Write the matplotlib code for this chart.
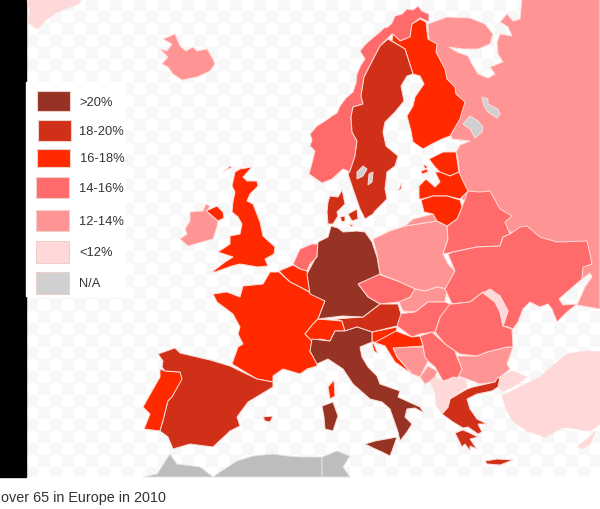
import numpy as np
import matplotlib
matplotlib.use("Agg")
import matplotlib.pyplot as plt
from matplotlib.patches import Rectangle

plt.rcParams['font.family'] = ['Liberation Sans', 'DejaVu Sans']

# Legend
labels = [">20%", "18-20%", "16-18%", "14-16%", "12-14%", "<12%", "N/A"]
colors = ["#973324", "#cf3017", "#ff2a00", "#ff6b6b", "#ff9494", "#ffd9d9", "#d0d0d0"]
AFRICA_GREY = "#bdbdbd"

# Outlines, in image pixels
russia = [(428,25),(447,18),(470,19),(485,25),(493,35),(490,45),(478,50),(463,50),(449,48),(457,53),(468,57),(472,65),(478,75),(488,79),(495,75),(490,68),(503,63),(498,55),(497,43),(500,35),(512,37),(508,28),(500,23),(507,15),(513,22),(520,20),(522,0),(600,0),(600,310),(577,306),(585,288),(592,278),(590,274),(582,280),(570,250),(500,230),(462,200),(458,160),(456,153),(460,146),(470,142),(452,140),(445,120),(430,60)]
finland = [(412,25),(420,20),(426,23),(427,32),(428,40),(437,45),(436,53),(445,70),(447,80),(455,88),(456,95),(465,103),(460,120),(450,137),(442,140),(432,145),(423,150),(413,143),(411,132),(407,117),(413,107),(415,98),(424,85),(420,77),(413,75),(405,50),(392,42),(393,35),(400,42),(410,38)]
sweden = [(388,40),(405,50),(413,75),(407,77),(401,87),(404,102),(395,113),(385,123),(383,133),(386,147),(398,157),(395,167),(387,173),(385,190),(387,200),(375,212),(373,215),(365,220),(360,210),(353,190),(348,175),(350,172),(355,157),(357,142),(352,133),(351,118),(353,108),(363,105),(361,97),(364,78),(380,47)]
gotland = [(398,192),(402,183),(401,190)]
norway = [(429,15),(422,12),(418,7),(413,11),(407,10),(402,15),(395,17),(392,24),(388,28),(384,29),(380,33),(375,37),(368,43),(364,47),(360,52),(365,60),(361,66),(357,75),(356,84),(353,93),(346,99),(340,107),(337,114),(332,117),(325,122),(317,127),(310,135),(312,141),(310,147),(315,152),(313,160),(309,175),(322,184),(332,180),(343,170),(350,173),(355,157),(357,142),(352,133),(351,118),(353,108),(363,105),(361,97),(364,78),(380,47),(388,39),(392,35),(400,42),(410,38),(412,25),(420,19),(429,23)]
estonia = [(429,160),(443,153),(456,153),(459,173),(450,177),(440,173),(435,168)]
saaremaa = [(421,172),(427,170),(428,173),(422,175)]
hiiumaa = [(423,165),(428,168),(425,170)]
latvia = [(419,200),(419,187),(426,180),(435,188),(440,183),(435,173),(440,173),(450,177),(459,173),(463,182),(468,192),(460,200),(447,197),(433,197),(422,200)]
lithuania = [(421,201),(433,197),(447,197),(460,201),(462,208),(457,220),(447,227),(437,222),(433,215),(424,213)]
poland = [(373,240),(390,232),(405,227),(437,222),(447,227),(448,240),(443,255),(448,265),(455,272),(447,290),(437,288),(425,292),(415,290),(400,283),(380,275),(377,255)]
kaliningrad = [(405,227),(413,220),(433,215),(437,222)]
belarus = [(447,227),(457,220),(462,208),(468,192),(480,193),(490,192),(500,210),(512,217),(505,223),(510,235),(503,238),(500,247),(477,248),(453,253),(443,255),(448,240)]
ukraine = [(453,253),(477,248),(500,247),(503,238),(510,235),(520,228),(527,227),(540,238),(557,243),(587,242),(590,255),(592,265),(583,268),(582,280),(567,293),(559,300),(563,306),(577,305),(567,313),(557,323),(552,310),(548,305),(540,308),(530,303),(523,310),(518,323),(513,330),(508,328),(503,327),(508,312),(500,297),(483,293),(470,303),(452,305),(445,290),(455,272),(448,255)]
moldova = [(483,294),(490,290),(500,297),(508,312),(503,327),(500,313),(495,303)]
romania = [(452,305),(470,303),(483,293),(495,303),(500,313),(503,327),(512,330),(513,348),(507,348),(487,353),(477,357),(460,355),(455,352),(445,345),(435,333),(440,318),(445,305)]
bulgaria = [(457,357),(477,357),(487,353),(507,348),(513,348),(507,365),(510,370),(500,378),(495,383),(480,385),(467,380),(458,377),(462,370)]
hungary = [(398,315),(415,313),(428,303),(445,303),(450,305),(440,318),(435,333),(420,335),(412,338),(397,327)]
slovakia = [(415,290),(425,292),(437,288),(447,290),(445,303),(428,303),(415,313),(403,312),(399,303),(410,298)]
czechia = [(358,285),(378,275),(400,283),(415,290),(410,298),(399,303),(380,305),(368,298)]
germany = [(317,258),(318,243),(328,238),(331,227),(338,229),(343,233),(357,232),(365,233),(372,243),(377,258),(380,275),(358,285),(368,298),(380,305),(363,318),(342,317),(318,320),(325,302),(310,295),(307,275),(315,260)]
denmark = [(328,203),(330,197),(338,198),(342,191),(343,195),(345,205),(342,208),(337,213),(338,217),(333,225),(328,225),(327,213)]
zealand = [(348,215),(357,210),(358,220),(352,222)]
funen = [(340,218),(345,217),(345,222),(342,223)]
lolland = [(348,225),(353,226),(352,228)]
netherlands = [(293,265),(300,250),(312,245),(318,245),(317,258),(310,265),(307,272),(300,270)]
belgium = [(279,272),(293,266),(300,270),(307,272),(310,293),(300,288),(290,283)]
france = [(279,273),(290,283),(300,288),(309,293),(325,302),(318,320),(313,325),(305,335),(312,342),(310,353),(317,362),(317,367),(307,370),(300,375),(283,370),(273,377),(273,383),(257,380),(232,365),(238,348),(243,345),(238,335),(240,328),(233,315),(217,303),(213,295),(227,293),(240,298),(243,287),(263,285),(270,273)]
switzerland = [(305,335),(313,325),(318,320),(342,322),(345,332),(335,332),(330,342),(320,340),(312,342)]
austria = [(335,320),(363,318),(380,305),(398,305),(401,315),(397,327),(372,333),(357,328),(345,332),(342,322)]
italy = [(372,333),(372,343),(360,348),(362,358),(368,368),(377,377),(380,385),(400,392),(398,398),(420,408),(424,414),(415,409),(407,410),(405,418),(412,425),(407,433),(400,442),(398,433),(390,410),(382,403),(370,400),(353,385),(343,370),(328,360),(317,365),(310,352),(312,340),(330,342),(335,332),(345,332),(357,328)]
sicily = [(365,445),(375,442),(397,438),(392,452),(390,457),(382,453),(373,449)]
sardinia = [(322,407),(333,403),(338,417),(333,432),(325,430),(324,418)]
corsica = [(328,388),(334,381),(335,397),(330,400)]
slovenia = [(372,333),(397,328),(395,340),(385,345),(372,343)]
croatia = [(396,332),(412,338),(420,337),(423,347),(393,349),(397,358),(412,375),(395,363),(385,347),(373,343),(378,355),(374,352),(372,345)]
bosnia = [(393,348),(423,348),(425,358),(428,362),(420,378),(412,375),(397,358)]
serbia = [(420,337),(432,333),(445,345),(455,352),(457,358),(462,370),(458,378),(443,382),(435,368),(428,362),(425,358),(423,347)]
montenegro = [(420,378),(428,367),(437,372),(435,380),(425,385)]
albania = [(430,382),(435,378),(443,383),(443,395),(450,400),(448,408),(442,415),(437,407),(435,393)]
macedonia = [(443,383),(453,378),(465,380),(467,388),(450,399),(443,395)]
greece = [(442,415),(448,408),(450,400),(467,390),(473,388),(495,383),(498,378),(502,382),(498,388),(492,392),(477,395),(467,400),(470,410),(475,417),(477,420),(487,425),(478,425),(482,433),(478,435),(468,428),(463,429),(453,423)]
peloponnese = [(455,434),(463,431),(470,434),(478,438),(470,440),(477,450),(470,447),(470,452),(465,445),(462,448),(458,440)]
crete = [(485,462),(497,460),(513,461),(500,466),(487,465)]
thrace = [(500,378),(512,372),(527,378),(513,388),(503,392),(498,388)]
anatolia = [(502,397),(520,388),(540,378),(567,355),(587,352),(600,353),(600,425),(590,432),(563,428),(545,438),(527,432),(513,422),(507,412)]
cyprus = [(578,448),(595,433),(590,445),(583,449)]
spain = [(158,355),(175,349),(180,354),(210,361),(230,367),(257,380),(273,383),(273,388),(248,403),(237,418),(240,427),(230,432),(213,448),(190,445),(173,450),(168,438),(160,432),(163,422),(168,402),(172,398),(182,380),(180,373),(165,372),(162,368),(163,362)]
portugal = [(160,370),(165,372),(180,373),(183,380),(172,398),(168,402),(163,422),(160,432),(144,430),(150,415),(143,408),(152,392),(160,378)]
balearic = [(263,418),(273,417),(270,423),(265,422)]
uk = [(235,173),(240,170),(252,168),(243,178),(247,182),(257,182),(258,187),(250,195),(247,202),(253,205),(260,223),(263,237),(275,248),(274,255),(265,260),(268,267),(258,268),(240,265),(232,267),(215,273),(212,273),(225,263),(233,258),(218,253),(230,245),(230,237),(240,235),(242,225),(238,218),(232,213),(233,203),(235,193),(232,187)]
hebrides = [(223,173),(230,167),(232,168)]
n_ireland = [(206,212),(217,207),(223,213),(224,219),(218,222),(210,215)]
ireland = [(180,240),(187,235),(185,230),(190,222),(190,213),(203,212),(206,205),(210,207),(207,212),(212,217),(218,222),(217,228),(213,240),(202,243),(188,247)]
iceland = [(160,50),(167,52),(172,45),(163,40),(175,35),(180,47),(186,52),(193,48),(197,52),(207,50),(213,60),(215,65),(210,72),(197,78),(182,81),(173,75),(168,68),(162,65),(168,58)]
greenland = [(27,0),(82,0),(78,5),(57,13),(47,20),(37,30),(28,23),(30,13)]
ladoga = [(463,125),(470,117),(478,122),(483,128),(482,133),(475,139),(470,130)]
onega = [(482,98),(488,100),(488,105),(498,110),(500,115),(497,119),(488,113),(484,107)]
vanern = [(357,173),(363,167),(367,170),(363,177),(357,180)]
vattern = [(369,175),(373,173),(372,183),(368,186)]
morocco = [(143,478),(157,475),(170,455),(177,465),(200,468),(212,477),(212,478)]
algeria = [(213,478),(220,473),(237,462),(253,457),(273,455),(287,457),(300,458),(322,458),(322,478)]
tunisia = [(322,458),(337,452),(350,457),(343,468),(350,478),(322,478)]

# Shapes per legend class
over_20 = [germany, italy, sicily, sardinia]
from_18 = [sweden, gotland, denmark, zealand, funen, lolland, austria, spain, balearic, greece, peloponnese, crete]
from_16 = [finland, estonia, saaremaa, hiiumaa, latvia, lithuania, belgium, france, switzerland, corsica, slovenia, croatia, portugal, uk, hebrides, n_ireland]
from_14 = [norway, belarus, ukraine, romania, hungary, czechia, netherlands, serbia]
from_12 = [russia, poland, kaliningrad, bulgaria, slovakia, bosnia, montenegro, ireland, iceland]
under_12 = [moldova, albania, macedonia, thrace, anatolia, cyprus, greenland]
no_data = [ladoga, onega, vanern, vattern]
classes = [over_20, from_18, from_16, from_14, from_12, under_12, no_data]

fig = plt.figure(figsize=(6, 5.1), dpi=100)
ax = fig.add_axes([0, 0, 1, 1])
ax.axis('off')

# faint checker behind the map
yy, xx = np.indices((40, 50))
ax.imshow((xx + yy) % 2, extent=(26, 626, 480, 0), cmap='gray_r', vmin=0, vmax=30,
          interpolation='nearest', aspect='auto', zorder=0)
ax.set_xlim(0, 600)
ax.set_ylim(510, 0)
ax.add_patch(Rectangle((0, 478), 600, 32, color='white', zorder=1))
ax.add_patch(Rectangle((0, 0), 26, 478, color='black', zorder=1))

# russia has to go under its neighbours, so the 12-14% class is drawn first
for i in [4, 3, 2, 1, 0, 5, 6]:
    for shape in classes[i]:
        ax.fill(*zip(*shape), facecolor=colors[i], edgecolor='#ffdcd8', linewidth=0.7, zorder=2)

for shape in [morocco, algeria, tunisia]:
    ax.fill(*zip(*shape), facecolor=AFRICA_GREY, edgecolor='#e4e4e4', linewidth=0.6, zorder=2)

# legend
ax.add_patch(Rectangle((26, 83), 99, 214, color='white', zorder=3))
swatch_y = [92, 121, 150, 178, 211, 242, 273]
swatch_h = [20, 21, 18, 21, 21, 22, 22]
swatch_x = [36.5, 37.5, 36.5, 36, 36, 36, 36]
text_x = [79, 78.5, 80, 78.5, 78.5, 79, 79]
for i, lab in enumerate(labels):
    ax.add_patch(Rectangle((swatch_x[i], swatch_y[i]), 33, swatch_h[i], facecolor=colors[i],
                           edgecolor='#efcfca', linewidth=0.8, zorder=4))
    ax.text(text_x[i], swatch_y[i] + swatch_h[i] / 2 + 0.5, lab, fontsize=9.3, color='#333333',
            va='center', ha='left', zorder=5)

ax.text(1, 498, "over 65 in Europe in 2010", fontsize=10.4, color='#333333', va='center', ha='left', zorder=5)

fig.savefig("out.png", dpi=100)
